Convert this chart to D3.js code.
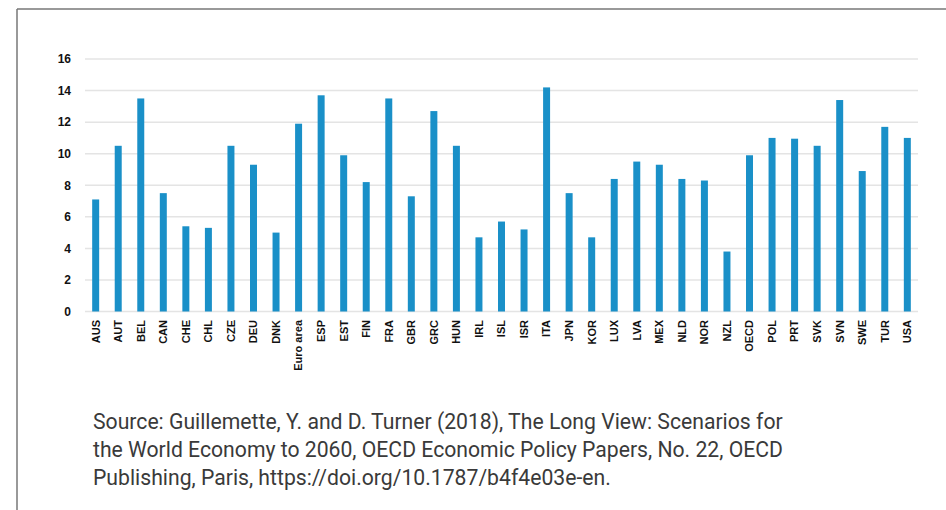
<!DOCTYPE html>
<html>
<head>
<meta charset="utf-8">
<script src="https://cdn.jsdelivr.net/npm/d3@7"></script>
<style>
  html, body { margin: 0; padding: 0; background: #fff; }
  svg { display: block; }
</style>
</head>
<body>
<svg id="chart" width="946" height="510"></svg>
<script>
const categories = ["AUS","AUT","BEL","CAN","CHE","CHL","CZE","DEU","DNK","Euro area","ESP","EST","FIN","FRA","GBR","GRC","HUN","IRL","ISL","ISR","ITA","JPN","KOR","LUX","LVA","MEX","NLD","NOR","NZL","OECD","POL","PRT","SVK","SVN","SWE","TUR","USA"];
const values = [7.1,10.5,13.5,7.5,5.4,5.3,10.5,9.3,5.0,11.9,13.7,9.9,8.2,13.5,7.3,12.7,10.5,4.7,5.7,5.2,14.2,7.5,4.7,8.4,9.5,9.3,8.4,8.3,3.8,9.9,11.0,10.95,10.5,13.4,8.9,11.7,11.0];
const yTicks = [0,2,4,6,8,10,12,14,16];
const sourceLines = [
  "Source: Guillemette, Y. and D. Turner (2018), The Long View: Scenarios for",
  "the World Economy to 2060, OECD Economic Policy Papers, No. 22, OECD",
  "Publishing, Paris, https://doi.org/10.1787/b4f4e03e-en."
];

const svg = d3.select("#chart");

// frame
svg.append("line").attr("x1", 17).attr("x2", 946).attr("y1", 9).attr("y2", 9)
  .attr("stroke", "#777").attr("stroke-width", 1.5);
svg.append("line").attr("x1", 17).attr("x2", 17).attr("y1", 9).attr("y2", 510)
  .attr("stroke", "#777").attr("stroke-width", 1.5);

const x = d3.scaleBand().domain(categories).range([84.4, 918.6])
  .paddingInner(0.69).paddingOuter(0.345);
const y = d3.scaleLinear().domain([0, 16]).range([311.5, 59]);

// grid
const grid = svg.append("g");
grid.selectAll("line").data(yTicks).join("line")
  .attr("x1", 85).attr("x2", 918)
  .attr("y1", d => y(d)).attr("y2", d => y(d))
  .attr("stroke", "#e4e4e4").attr("stroke-width", 1.5);

// y axis labels
const yAxis = svg.append("g").attr("transform", "translate(71,0)")
  .call(d3.axisLeft(y).tickValues(yTicks).tickSize(0).tickPadding(0));
yAxis.select(".domain").remove();
yAxis.selectAll("text")
  .attr("font-family", "'Liberation Sans', Arial, sans-serif")
  .attr("font-weight", "bold").attr("font-size", "12px").attr("fill", "#111");

// bars
svg.append("g").selectAll("rect").data(categories).join("rect")
  .attr("x", d => x(d))
  .attr("width", x.bandwidth())
  .attr("y", (d, i) => y(values[i]))
  .attr("height", (d, i) => y(0) - y(values[i]))
  .attr("fill", "#1a90c8");

// x axis labels
const xAxis = svg.append("g").attr("transform", "translate(0,318)")
  .call(d3.axisBottom(x).tickSize(0).tickPadding(0));
xAxis.select(".domain").remove();
xAxis.selectAll("text")
  .attr("font-family", "'Liberation Sans', Arial, sans-serif")
  .attr("font-weight", "bold").attr("font-size", "11px").attr("fill", "#111")
  .attr("text-anchor", "end")
  .attr("transform", "rotate(-90)")
  .attr("x", -2).attr("y", 0).attr("dy", "0.35em");

// source
const src = svg.append("g");
const srcText = src.selectAll("text").data(sourceLines).join("text")
  .attr("x", 93).attr("y", (d, i) => 429 + i * 28)
  .attr("font-family", "Roboto, sans-serif")
  .attr("font-size", "20px").attr("fill", "#3a3a3a")
  .text(d => d);
const w0 = srcText.node().getComputedTextLength();
const fs = 20 * 690 / w0;
srcText.attr("font-size", fs.toFixed(2) + "px");
</script>
</body>
</html>
